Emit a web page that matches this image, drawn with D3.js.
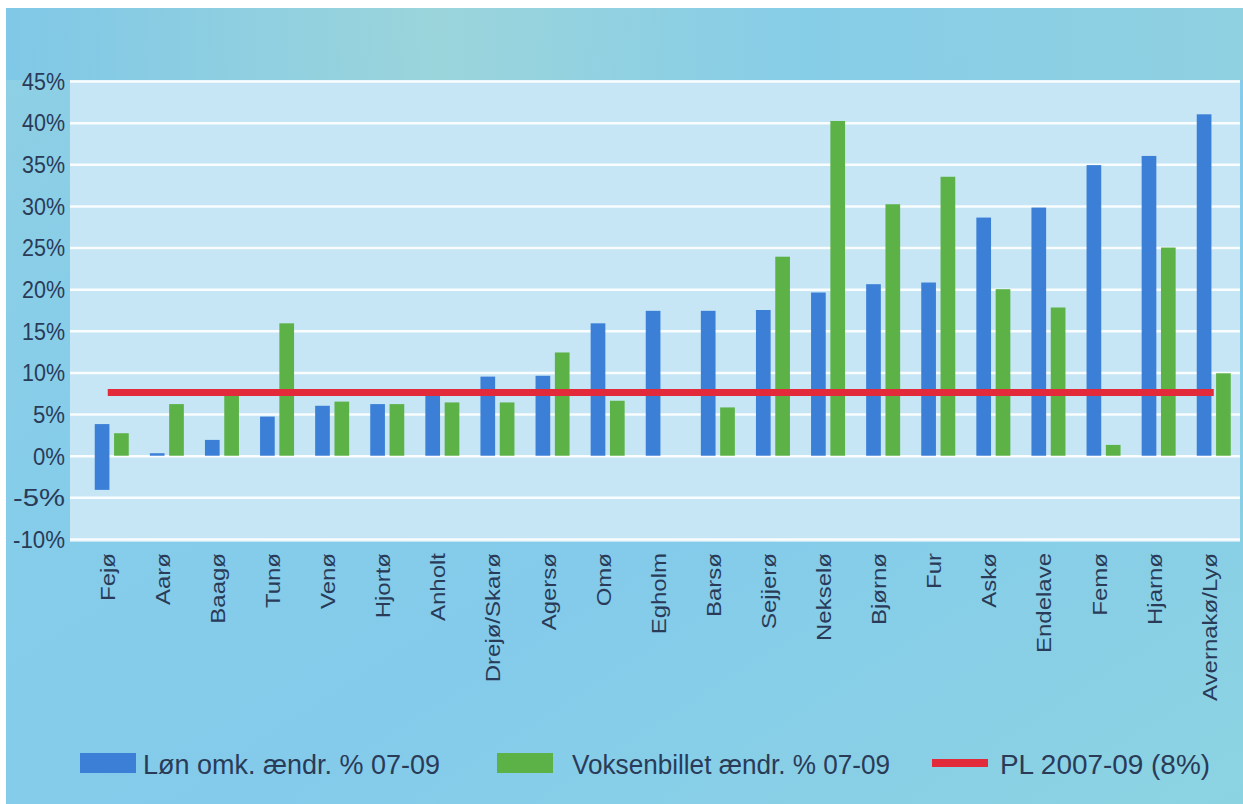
<!DOCTYPE html>
<html>
<head>
<meta charset="utf-8">
<script src="https://cdn.jsdelivr.net/npm/d3@7"></script>
<style>
  html, body { margin: 0; padding: 0; background: #fff; }
  svg { display: block; }
</style>
</head>
<body>
<svg id="chart" width="1243" height="804"></svg>
<script>
// islands, sorted by wage cost change
const islands = ['Fejø', 'Aarø', 'Baagø', 'Tunø', 'Venø', 'Hjortø', 'Anholt', 'Drejø/Skarø', 'Agersø', 'Omø',
    'Egholm', 'Barsø', 'Sejjerø', 'Nekselø', 'Bjørnø', 'Fur', 'Askø', 'Endelave', 'Femø', 'Hjarnø', 'Avernakø/Lyø'];
// Løn omk. ændr. % 07-09 (top of bar)
const lonOmk = [3.8, 0.3, 1.9, 4.7, 6.0, 6.2, 7.8, 9.5, 9.6, 15.9,
    17.4, 17.4, 17.5, 19.6, 20.6, 20.8, 28.6, 29.8, 34.9, 36.0, 41.0];
// lower end of the blue bars (Fejø reaches below zero)
const lonOmkLow = [-4.1, 0, 0, 0, 0, 0, 0, 0, 0, 0,
    0, 0, 0, 0, 0, 0, 0, 0, 0, 0, 0];
// Voksenbillet ændr. % 07-09 (Egholm has none)
const voksen = [2.7, 6.2, 7.3, 15.9, 6.5, 6.2, 6.4, 6.4, 12.4, 6.6,
    null, 5.8, 23.9, 40.2, 30.2, 33.5, 20.0, 17.8, 1.3, 25.0, 9.9];
const plLevel = 7.6;
const yTicks = [-10, -5, 0, 5, 10, 15, 20, 25, 30, 35, 40, 45];
const legendLabels = ['Løn omk. ændr. % 07-09', 'Voksenbillet ændr. % 07-09', 'PL 2007-09 (8%)'];

const colors = { lon: '#3b7fd7', voks: '#5cb247', pl: '#e22a3a', text: '#2a3b58' };
const plot = { left: 70, right: 1240, top: 80, bottom: 542 };
const fontMain = '"Liberation Sans", Arimo, Arial, sans-serif';

const svg = d3.select('#chart');
const defs = svg.append('defs');

const bg = defs.append('linearGradient').attr('id', 'bg')
    .attr('x1', 0).attr('y1', 0).attr('x2', 1).attr('y2', 1);
bg.append('stop').attr('offset', '0%').attr('stop-color', '#8fd0e3');
bg.append('stop').attr('offset', '30%').attr('stop-color', '#86cdea');
bg.append('stop').attr('offset', '60%').attr('stop-color', '#84cbeb');
bg.append('stop').attr('offset', '100%').attr('stop-color', '#8cd3e2');

const topBand = defs.append('linearGradient').attr('id', 'topband')
    .attr('x1', 0).attr('y1', 0).attr('x2', 1).attr('y2', 0);
topBand.append('stop').attr('offset', '0%').attr('stop-color', '#7cc6e8');
topBand.append('stop').attr('offset', '35%').attr('stop-color', '#9fd6d8');
topBand.append('stop').attr('offset', '65%').attr('stop-color', '#86cde6');
topBand.append('stop').attr('offset', '100%').attr('stop-color', '#92d2de');

// background
svg.append('rect').attr('x', 6).attr('y', 8).attr('width', 1237).attr('height', 796)
    .attr('fill', 'url(#bg)');
svg.append('rect').attr('x', 6).attr('y', 8).attr('width', 1237).attr('height', 72)
    .attr('fill', 'url(#topband)').attr('opacity', 0.8);
svg.append('rect').attr('x', plot.left).attr('y', plot.top)
    .attr('width', plot.right - plot.left).attr('height', plot.bottom - plot.top)
    .attr('fill', '#c6e6f5');

const y = d3.scaleLinear().domain([-10, 45]).range([539, 81]);
const x = d3.scaleBand().domain(islands).range([84.2, 1241.3]).padding(0);
const xs = d3.scaleBand().domain(['lon', 'voks']).range([-17, 17]).paddingInner(0.24);
const cx = (d) => x(d) + x.bandwidth() / 2;

// grid
const gridG = svg.append('g').attr('transform', `translate(${plot.left} 0)`);
gridG.call(d3.axisRight(y).tickValues(yTicks).tickSize(plot.right - plot.left).tickFormat(''));
gridG.select('.domain').remove();
gridG.selectAll('.tick line').attr('stroke', '#ffffff').attr('stroke-width', 2.5).attr('opacity', 0.9);

// y axis labels
const yAxisG = svg.append('g').attr('transform', `translate(${plot.left} 0)`);
yAxisG.call(d3.axisLeft(y).tickValues(yTicks).tickSize(0).tickPadding(5).tickFormat((d) => d + '%'));
yAxisG.select('.domain').remove();
yAxisG.selectAll('text')
    .attr('fill', colors.text)
    .attr('dy', '0.36em')
    .style('font-family', fontMain)
    .style('font-size', '23px')
    .attr('textLength', (d) => (d < 0 ? 52 : d < 10 ? 32 : 43))
    .attr('lengthAdjust', 'spacingAndGlyphs');

// blue bars
svg.append('g').selectAll('rect').data(islands).enter().append('rect')
    .attr('x', (d) => cx(d) + xs('lon'))
    .attr('width', xs.bandwidth())
    .attr('y', (d, i) => y(lonOmk[i]))
    .attr('height', (d, i) => y(lonOmkLow[i]) - y(lonOmk[i]))
    .attr('fill', colors.lon);

// green bars
svg.append('g').selectAll('rect').data(islands.filter((d, i) => voksen[i] !== null)).enter().append('rect')
    .attr('x', (d) => cx(d) + xs('voks'))
    .attr('width', xs.bandwidth())
    .attr('y', (d) => y(voksen[islands.indexOf(d)]))
    .attr('height', (d) => y(0) - y(voksen[islands.indexOf(d)]))
    .attr('fill', colors.voks);

// PL reference line
svg.append('line')
    .attr('x1', cx(islands[0]) - 4).attr('x2', cx(islands[islands.length - 1]))
    .attr('y1', y(plLevel)).attr('y2', y(plLevel))
    .attr('stroke', colors.pl).attr('stroke-width', 7);

// x labels, rotated and stretched along the text like the scan
svg.append('g').selectAll('text').data(islands).enter().append('text')
    .attr('transform', (d) => `translate(${cx(d) + 3} 553) rotate(-90) scale(1.2 1)`)
    .attr('text-anchor', 'end')
    .attr('fill', colors.text)
    .style('font-family', fontMain)
    .style('font-size', '20px')
    .text((d) => d);

// legend
const legend = [
    { label: legendLabels[0], color: colors.lon, sx: 80, tx: 143, tw: 297, kind: 'box' },
    { label: legendLabels[1], color: colors.voks, sx: 497, tx: 572, tw: 318, kind: 'box' },
    { label: legendLabels[2], color: colors.pl, sx: 932, tx: 1000, tw: 210, kind: 'line' }
];
const legendG = svg.append('g');
legend.forEach((item) => {
    if (item.kind === 'box') {
        legendG.append('rect').attr('x', item.sx).attr('y', 753).attr('width', 56).attr('height', 20)
            .attr('fill', item.color);
    } else {
        legendG.append('rect').attr('x', item.sx).attr('y', 759).attr('width', 56).attr('height', 8)
            .attr('fill', item.color);
    }
    legendG.append('text')
        .attr('x', item.tx).attr('y', 774)
        .attr('fill', colors.text)
        .style('font-family', fontMain)
        .style('font-size', '27px')
        .attr('textLength', item.tw)
        .attr('lengthAdjust', 'spacingAndGlyphs')
        .text(item.label);
});
</script>
</body>
</html>
